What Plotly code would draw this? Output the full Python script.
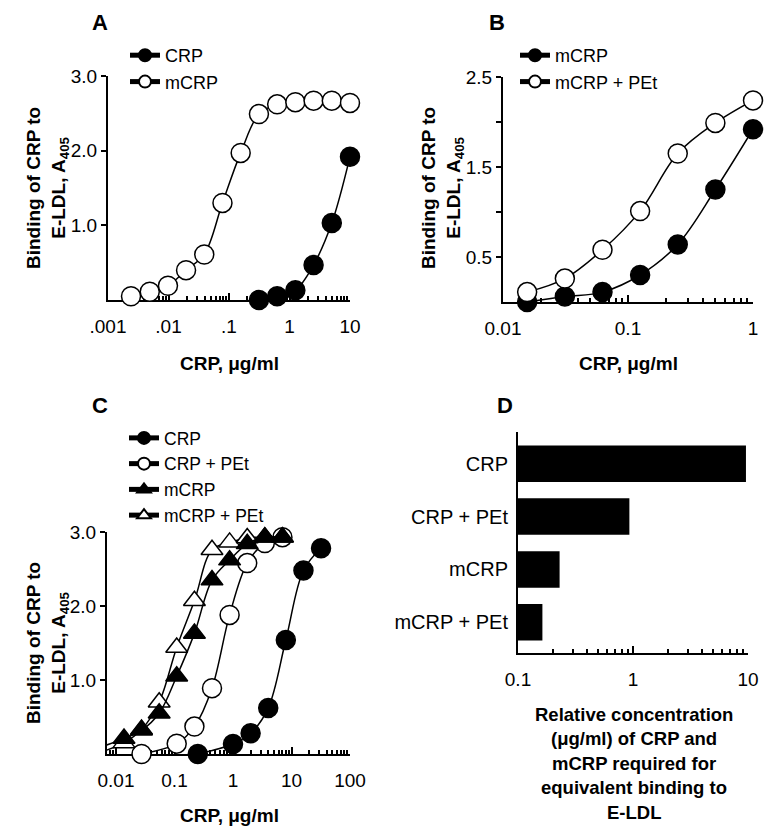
import plotly.graph_objects as go

W, H = 783, 838

# ---- panel A: binding of CRP / mCRP to E-LDL ----
a_mcrp_x = [0.0024, 0.0049, 0.0098, 0.0195, 0.039, 0.078, 0.156, 0.3125, 0.625, 1.25, 2.5, 5, 10]
a_mcrp_y = [0.05, 0.11, 0.19, 0.40, 0.61, 1.30, 1.97, 2.49, 2.62, 2.65, 2.67, 2.67, 2.64]
a_crp_x = [0.3125, 0.625, 1.25, 2.5, 5, 10]
a_crp_y = [0.0, 0.05, 0.13, 0.47, 1.03, 1.92]

# ---- panel B: mCRP with / without PEt ----
b_x = [0.0156, 0.03125, 0.0625, 0.125, 0.25, 0.5, 1]
b_mcrp_y = [0.0, 0.06, 0.11, 0.30, 0.64, 1.25, 1.92]
b_mcrp_pet_y = [0.11, 0.26, 0.58, 1.01, 1.65, 1.99, 2.24]

# ---- panel C: all four preparations ----
c_crp_x = [0.25, 1, 2, 4, 8, 16, 32]
c_crp_y = [0.0, 0.135, 0.28, 0.62, 1.54, 2.48, 2.78]
c_crp_pet_x = [0.0273, 0.109, 0.219, 0.4375, 0.875, 1.75, 3.5, 7]
c_crp_pet_y = [0.0, 0.14, 0.37, 0.89, 1.88, 2.58, 2.85, 2.93]
c_m_x = [0.0068, 0.0137, 0.0273, 0.0547, 0.109, 0.219, 0.4375, 0.875, 1.75, 3.5, 7]
c_mcrp_y = [0.12, 0.21, 0.32, 0.55, 1.05, 1.63, 2.35, 2.62, 2.84, 2.93, 2.93]
c_mcrp_pet_y = [0.05, 0.15, 0.33, 0.70, 1.44, 2.07, 2.76, 2.86, 2.92, 2.93, 2.93]

# ---- panel D: relative concentration for equivalent binding ----
d_labels = ["CRP", "CRP + PEt", "mCRP", "mCRP + PEt"]
d_values = [9.6, 0.93, 0.23, 0.163]

FONT = "Arial, Liberation Sans, sans-serif"
PAGE = 8  # the html body margin pushes the figure this far right and down


def fx(p):
    return (p - PAGE) / W


def fy(p):
    return 1 - (p - PAGE) / H


def minor_vals(lo, hi):
    vals = []
    for e in range(lo, hi):
        for m in range(2, 10):
            vals.append(m * 10 ** e)
    return vals


def curve(x, y, name, symbol, filled, xa, ya, legend, rank):
    return go.Scatter(
        x=x, y=y, name=name, mode="lines+markers",
        xaxis=xa, yaxis=ya, legend=legend, legendrank=rank,
        line=dict(color="black", width=1.5, shape="spline", smoothing=1),
        marker=dict(symbol=symbol, size=19,
                    color="black" if filled else "white",
                    line=dict(color="black", width=1.5)),
        cliponaxis=False,
    )


fig = go.Figure()

fig.add_trace(curve(a_crp_x, a_crp_y, "CRP", "circle", True, "x", "y", "legend", 1))
fig.add_trace(curve(a_mcrp_x, a_mcrp_y, "mCRP", "circle", False, "x", "y", "legend", 2))

fig.add_trace(curve(b_x, b_mcrp_y, "mCRP", "circle", True, "x2", "y2", "legend2", 1))
fig.add_trace(curve(b_x, b_mcrp_pet_y, "mCRP + PEt", "circle", False, "x2", "y2", "legend2", 2))

fig.add_trace(curve(c_crp_x, c_crp_y, "CRP", "circle", True, "x3", "y3", "legend3", 1))
fig.add_trace(curve(c_crp_pet_x, c_crp_pet_y, "CRP + PEt", "circle", False, "x3", "y3", "legend3", 2))
fig.add_trace(curve(c_m_x, c_mcrp_pet_y, "mCRP + PEt", "triangle-up", False, "x3", "y3", "legend3", 4))
fig.add_trace(curve(c_m_x, c_mcrp_y, "mCRP", "triangle-up", True, "x3", "y3", "legend3", 3))

fig.add_trace(go.Bar(
    x=d_values, y=d_labels, orientation="h", xaxis="x4", yaxis="y4",
    marker=dict(color="black", line=dict(width=0)), width=0.69, showlegend=False,
))

axis_base = dict(showline=True, linecolor="black", linewidth=2, showgrid=False,
                 zeroline=False, layer="below traces", automargin=False,
                 tickfont=dict(family=FONT, size=19, color="black"))


def log_x(domain, rng, tickvals, ticktext, anchor, lo, hi):
    return dict(axis_base, type="log", domain=domain, range=rng, anchor=anchor,
                tickmode="array", tickvals=tickvals, ticktext=ticktext,
                ticks="inside", ticklen=7, tickwidth=1.5, tickcolor="black",
                ticklabelstandoff=8,
                minor=dict(tickmode="array", tickvals=minor_vals(lo, hi),
                           ticks="inside", ticklen=4, tickwidth=1.5, tickcolor="black"))


def lin_y(domain, rng, tickvals, ticktext, anchor):
    return dict(axis_base, domain=domain, range=rng, anchor=anchor,
                tickmode="array", tickvals=tickvals, ticktext=ticktext,
                ticks="outside", ticklen=5, tickwidth=1.5, tickcolor="black")


def legend_at(x, y, size):
    return dict(x=fx(x), y=fy(y), xanchor="left", yanchor="top",
                bgcolor="rgba(0,0,0,0)", font=dict(family=FONT, size=size, color="black"),
                itemsizing="constant", tracegroupgap=0)


fig.update_layout(
    width=W, height=H,
    margin=dict(l=0, r=0, t=0, b=0, pad=0, autoexpand=False),
    paper_bgcolor="white", plot_bgcolor="white",
    font=dict(family=FONT, color="black"),
    xaxis=log_x([fx(108), fx(350)], [-3, 1], [0.001, 0.01, 0.1, 1, 10],
                [".001", ".01", ".1", "1", "10"], "y", -3, 1),
    yaxis=lin_y([fy(300), fy(76)], [0, 3], [1, 2, 3], ["1.0", "2.0", "3.0"], "x"),
    xaxis2=log_x([fx(503), fx(753)], [-2, 0], [0.01, 0.1, 1],
                 ["0.01", "0.1", "1"], "y2", -2, 0),
    yaxis2=lin_y([fy(302), fy(77)], [0, 2.5], [0.5, 1, 1.5, 2, 2.5],
                 ["0.5", "", "1.5", "", "2.5"], "x2"),
    xaxis3=log_x([fx(107), fx(350)], [-2.154, 2], [0.01, 0.1, 1, 10, 100],
                 ["0.01", "0.1", "1", "10", "100"], "y3", -3, 2),
    yaxis3=lin_y([fy(754), fy(532)], [0, 3], [1, 2, 3], ["1.0", "2.0", "3.0"], "x3"),
    xaxis4=log_x([fx(518), fx(748)], [-1, 1], [0.1, 1, 10],
                 ["0.1", "1", "10"], "y4", -1, 1),
    yaxis4=dict(axis_base, domain=[fy(653), fy(432)], range=[3.58, -0.6], anchor="x4",
                type="category", ticks="", ticklabelstandoff=4,
                tickfont=dict(family=FONT, size=20, color="black")),
    legend=legend_at(125, 37, 18),
    legend2=legend_at(515, 37, 18),
    legend3=legend_at(124, 420, 17.5),
    bargap=0.3,
)


def note(text, x, y, size, angle=0):
    return dict(text=text, x=fx(x), y=fy(y), xref="paper", yref="paper",
                xanchor="center", yanchor="middle", showarrow=False,
                textangle=angle, font=dict(family=FONT, size=size, color="black"))


ann = []
for letter, x, y in [("A", 100, 22), ("B", 497, 22), ("C", 100, 405), ("D", 505, 405)]:
    ann.append(note("<b>%s</b>" % letter, x, y, 22))

ytitle = "<b>Binding of CRP to<br>E-LDL, A<sub>405</sub></b>"
for x, y in [(47, 188), (442, 188), (47, 643)]:
    ann.append(note(ytitle, x, y, 19, -90))

for x, y in [(229, 363), (628, 363), (229, 815)]:
    ann.append(note("<b>CRP, μg/ml</b>", x, y, 19))

d_title = ["Relative concentration", "(μg/ml) of CRP and", "mCRP required for",
           "equivalent binding to", "E-LDL"]
for i, line in enumerate(d_title):
    ann.append(note("<b>%s</b>" % line, 634, 714 + 24.5 * i, 18.5))

fig.update_layout(annotations=ann)

fig.write_html("out.html")
